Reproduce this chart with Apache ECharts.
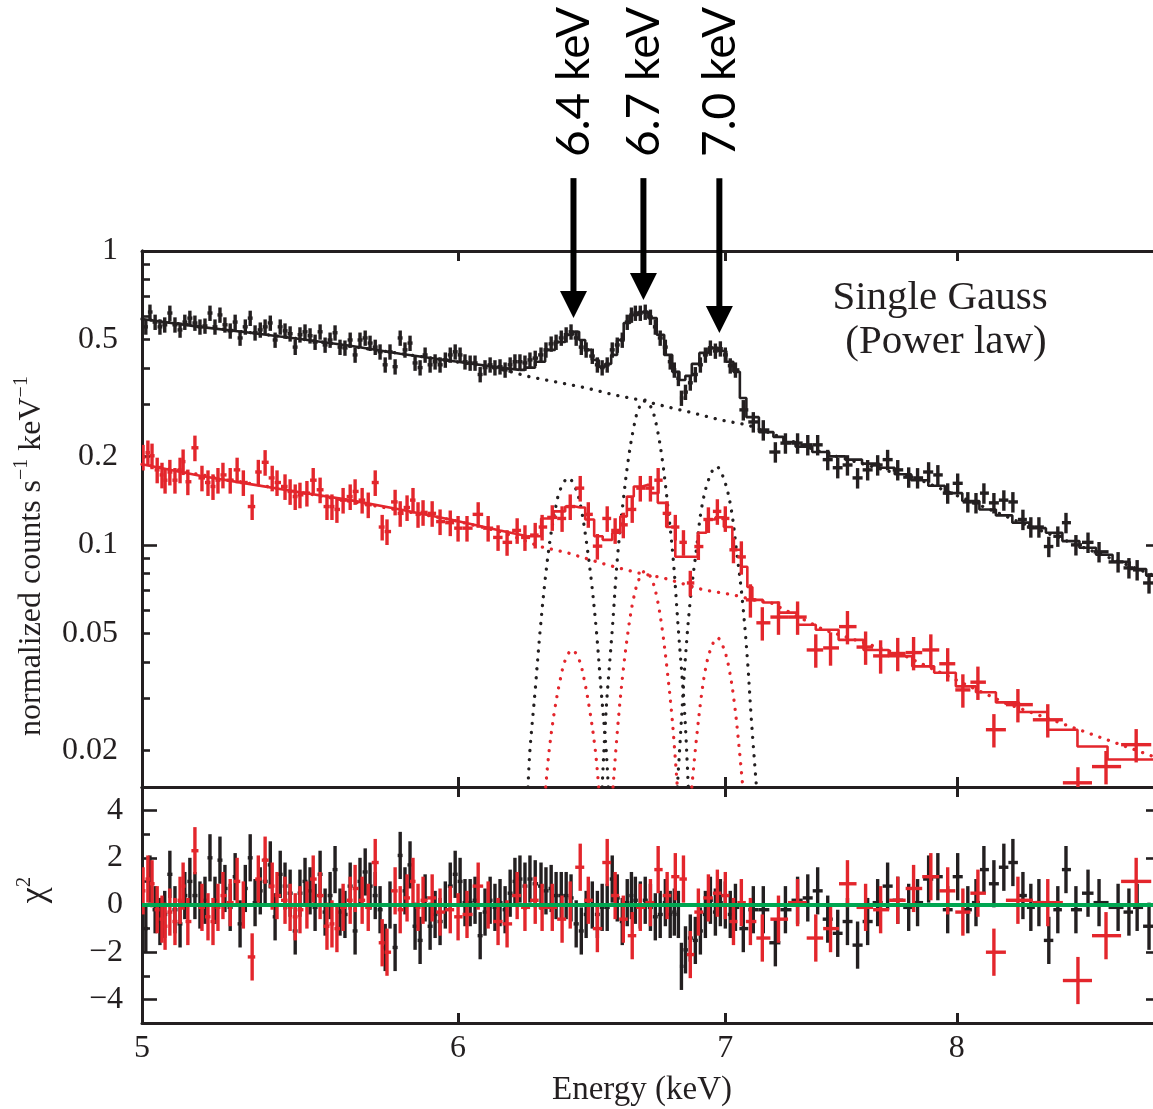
<!DOCTYPE html>
<html><head><meta charset="utf-8">
<script src="https://cdn.jsdelivr.net/npm/echarts@6/dist/echarts.min.js"></script>
<style>html,body{margin:0;padding:0;background:#fff}#c{width:1153px;height:1109px}</style>
</head><body><div id="c"></div>
<script>
// ---------- data ----------
// black spectrum: [energy keV, normalized counts s^-1 keV^-1]
const blackData = [
[5.011,0.552],[5.023,0.620],[5.038,0.573],[5.052,0.552],[5.066,0.561],[5.081,0.615],[5.096,0.561],[5.111,0.539],[5.125,0.573],[5.140,0.591],
[5.155,0.569],[5.170,0.552],[5.185,0.556],[5.200,0.615],[5.215,0.552],[5.230,0.606],[5.245,0.561],[5.261,0.535],[5.276,0.573],[5.291,0.506],
[5.307,0.552],[5.322,0.591],[5.337,0.527],[5.353,0.539],[5.368,0.552],[5.384,0.569],[5.399,0.498],[5.415,0.552],[5.430,0.535],[5.446,0.523],
[5.462,0.471],[5.477,0.519],[5.493,0.531],[5.509,0.515],[5.525,0.490],[5.541,0.531],[5.557,0.479],[5.573,0.498],[5.589,0.527],[5.605,0.471],
[5.621,0.468],[5.638,0.498],[5.654,0.443],[5.670,0.498],[5.687,0.506],[5.703,0.486],[5.720,0.471],[5.736,0.454],[5.753,0.410],[5.769,0.454],
[5.786,0.404],[5.803,0.506],[5.819,0.461],[5.836,0.486],[5.853,0.416],[5.870,0.401],[5.887,0.443],[5.904,0.410],[5.921,0.420],[5.938,0.410],
[5.956,0.426],[5.973,0.443],[5.990,0.454],[6.007,0.443],[6.024,0.420],[6.042,0.416],[6.059,0.416],[6.077,0.380],[6.094,0.401],[6.112,0.410],
[6.129,0.401],[6.147,0.404],[6.165,0.394],[6.183,0.410],[6.200,0.420],[6.218,0.420],[6.236,0.416],
[6.254,0.426],[6.273,0.432],[6.294,0.443],[6.312,0.461],[6.331,0.483],[6.349,0.490],[6.368,0.506],[6.386,0.519],[6.404,0.531],[6.423,0.506],
[6.442,0.471],[6.460,0.461],[6.483,0.439],[6.502,0.410],[6.520,0.401],[6.539,0.410],[6.558,0.461],[6.577,0.479],[6.596,0.498],[6.615,0.573],
[6.631,0.606],[6.646,0.615],[6.665,0.615],[6.684,0.620],[6.704,0.596],[6.723,0.552],[6.742,0.506],[6.762,0.471],[6.781,0.420],[6.797,0.394],
[6.813,0.369],[6.825,0.316],[6.841,0.331],[6.860,0.356],[6.880,0.380],[6.900,0.410],[6.920,0.443],[6.940,0.468],[6.960,0.457],[6.980,0.465],
[7.000,0.443],[7.020,0.407],[7.041,0.394],
[7.073,0.288],[7.114,0.262],[7.155,0.246],[7.205,0.207],[7.247,0.222],[7.298,0.222],[7.341,0.219],[7.383,0.219],[7.426,0.195],[7.469,0.183],
[7.511,0.187],[7.555,0.169],[7.599,0.180],[7.643,0.187],[7.687,0.195],[7.732,0.180],[7.781,0.170],[7.821,0.169],[7.871,0.177],[7.913,0.173],
[7.958,0.150],[8.004,0.162],[8.051,0.140],[8.089,0.139],[8.126,0.150],[8.173,0.139],[8.220,0.142],[8.263,0.140],[8.311,0.122],[8.349,0.115],
[8.388,0.115],[8.436,0.0987],[8.480,0.107],[8.520,0.119],[8.569,0.100],[8.629,0.102],[8.684,0.0947],[8.780,0.0875],[8.835,0.0835],[8.877,0.0822],
[8.938,0.0742]
];
// residuals (chi, sigma units) for the black bins, same order
const blackResid = [
-1.0,1.1,-0.2,-0.7,-0.4,1.3,-0.2,-0.8,0.4,1.0,
0.4,0.0,0.2,2.0,0.2,1.9,0.7,-0.1,1.2,-0.8,
0.7,2.0,0.1,0.6,1.0,1.7,-0.5,1.3,0.8,0.5,
-1.1,0.5,1.0,0.6,-0.1,1.3,-0.3,0.4,1.5,-0.3,
-0.4,0.8,-1.1,1.0,1.4,0.8,0.4,-0.2,-1.8,0.0,
-1.8,2.1,0.6,1.7,-0.9,-1.5,0.3,-0.9,-0.4,-0.7,
0.0,0.8,1.3,1.0,0.1,0.1,0.2,-1.3,-0.3,0.2,
-0.1,0.1,-0.2,0.5,1.0,1.1,0.8,
1.1,0.9,0.8,0.6,0.7,0.4,0.4,0.4,0.3,-0.8,
-1.1,-0.4,0.0,-0.4,-0.1,-0.1,1.1,0.3,-0.7,0.1,
0.4,0.2,0.0,0.2,-0.1,-0.5,-0.4,0.1,-0.4,-0.3,
-0.4,-2.6,-1.9,-1.4,-1.5,-1.1,-0.4,0.2,-0.3,0.1,
0.0,-0.4,-0.1,
-1.0,-0.2,-0.2,-1.6,-0.2,0.2,0.3,0.6,-0.6,-1.2,
-0.7,-1.7,-0.7,0.1,0.8,0.2,-0.1,0.1,1.1,1.2,
-0.2,1.2,-0.2,0.1,1.5,0.9,1.6,1.8,0.4,-0.1,
0.1,-1.5,-0.2,1.5,-0.2,0.5,0.1,-0.1,-0.3,-0.1,
-0.9
];
// red spectrum
const redData = [
[5.003,0.199],[5.017,0.206],[5.029,0.201],[5.044,0.180],[5.058,0.173],[5.067,0.166],[5.081,0.177],[5.096,0.166],[5.111,0.180],[5.120,0.192],
[5.134,0.164],[5.155,0.214],[5.176,0.169],[5.194,0.163],[5.209,0.158],[5.224,0.166],[5.239,0.173],[5.261,0.166],[5.282,0.180],[5.301,0.163],
[5.328,0.135],[5.347,0.177],[5.368,0.191],[5.390,0.169],[5.405,0.163],[5.430,0.158],[5.446,0.152],[5.462,0.146],[5.477,0.148],[5.499,0.150],
[5.519,0.166],[5.541,0.154],[5.563,0.135],[5.579,0.135],[5.595,0.132],[5.615,0.142],[5.638,0.146],[5.654,0.152],[5.677,0.142],[5.697,0.137],
[5.720,0.163],[5.743,0.115],[5.759,0.111],[5.786,0.140],[5.803,0.128],[5.826,0.134],[5.846,0.142],[5.863,0.127],[5.880,0.129],[5.911,0.128],
[5.938,0.120],[5.973,0.119],[6.000,0.114],[6.031,0.114],[6.070,0.127],[6.105,0.114],[6.140,0.106],[6.172,0.102],[6.208,0.112],[6.236,0.106],
[6.273,0.108],[6.298,0.115],[6.335,0.124],[6.371,0.123],[6.401,0.135],[6.438,0.156],[6.468,0.127],[6.502,0.099],[6.539,0.123],[6.569,0.112],
[6.600,0.117],[6.634,0.132],[6.665,0.156],[6.704,0.156],[6.734,0.166],[6.769,0.128],[6.801,0.115],[6.833,0.102],[6.860,0.0742],[6.892,0.0987],
[6.932,0.122],[6.968,0.130],[7.000,0.123],[7.033,0.0962],[7.065,0.0910],[7.102,0.0650],[7.151,0.0543],[7.218,0.0568],[7.298,0.0568],[7.375,0.0439],
[7.438,0.0446],[7.511,0.0527],[7.590,0.0449],[7.656,0.0419],[7.732,0.0427],[7.803,0.0430],[7.881,0.0439],[7.958,0.0394],[8.028,0.0321],[8.098,0.0341],
[8.173,0.0235],[8.287,0.0286],[8.431,0.0254],[8.579,0.0155],[8.719,0.0176],[8.872,0.0209]
];
const redResid = [
0.6,1.1,0.9,-0.2,-0.6,-0.9,-0.3,-0.7,0.2,0.8,
-0.7,2.3,-0.1,-0.5,-0.7,-0.1,0.4,0.1,1.0,0.0,
-2.2,1.1,1.9,0.8,0.4,0.2,-0.1,-0.5,-0.2,0.0,
1.1,0.4,-0.9,-0.8,-1.0,-0.1,0.2,0.7,0.2,-0.1,
1.8,-1.6,-2.0,0.6,-0.2,0.3,1.0,-0.1,0.2,0.3,
-0.3,-0.2,-0.5,-0.4,0.8,0.0,-0.7,-0.8,0.4,-0.1,
0.2,-0.1,-0.1,-0.6,0.0,1.6,0.2,-1.0,1.8,0.4,
-0.6,-1.3,-0.1,0.1,1.5,0.4,1.2,1.1,-2.1,-0.3,
0.3,0.5,0.4,-0.7,0.1,-0.7,-1.4,-0.6,0.1,-1.4,
-1.0,0.9,-0.1,-0.2,0.2,0.7,1.2,0.6,-0.3,0.5,
-2.0,0.2,0.1,-3.2,-1.3,1.0
];
// relative error-bar half sizes: [energy upper limit, fraction]
const blackErrFrac = [[7.06,0.06],[9.5,0.08]];
const redErrFrac = [[7.06,0.10],[9.5,0.13]];

// folded models (solid histograms)
const blackModelLow = [[5.000,0.587],[5.170,0.552],[5.322,0.527],[5.477,0.502],[5.638,0.476],[5.803,0.447],[5.973,0.423],[6.147,0.401],[6.218,0.394]];
const blackModelHigh = [
[6.218,0.394],[6.254,0.401],[6.291,0.420],[6.327,0.461],[6.364,0.490],[6.401,0.519],[6.423,0.531],[6.445,0.498],[6.468,0.461],[6.494,0.426],
[6.520,0.404],[6.543,0.413],[6.565,0.443],[6.588,0.498],[6.615,0.569],[6.638,0.606],[6.677,0.620],[6.715,0.591],[6.742,0.519],[6.773,0.443],
[6.805,0.388],[6.829,0.364],[6.852,0.376],[6.880,0.413],[6.912,0.450],[6.952,0.468],[6.992,0.457],[7.016,0.420],[7.049,0.388],[7.069,0.316],
[7.102,0.272],[7.172,0.242],[7.222,0.233],[7.255,0.224],[7.324,0.216],[7.396,0.207],[7.468,0.200],[7.537,0.195],[7.612,0.189],[7.687,0.183],
[7.750,0.174],[7.835,0.166],[7.904,0.159],[7.986,0.150],[8.065,0.141],[8.145,0.132],[8.220,0.126],[8.301,0.119],[8.383,0.114],[8.461,0.110],
[8.544,0.103],[8.629,0.0978],[8.709,0.0925],[8.795,0.0876],[8.882,0.0828],[8.965,0.0786]
];
const redModelLow = [[5.000,0.188],[5.170,0.172],[5.322,0.161],[5.477,0.151],[5.638,0.142],[5.803,0.132],[5.973,0.122],[6.147,0.112],[6.245,0.107]];
const redModelHigh = [
[6.245,0.107],[6.273,0.107],[6.316,0.123],[6.364,0.130],[6.401,0.135],[6.438,0.134],[6.475,0.122],[6.505,0.107],[6.539,0.104],[6.577,0.110],
[6.600,0.125],[6.627,0.146],[6.653,0.158],[6.692,0.160],[6.715,0.150],[6.750,0.139],[6.781,0.115],[6.821,0.0911],[6.872,0.0911],[6.908,0.110],
[6.940,0.122],[6.980,0.124],[7.008,0.115],[7.049,0.0962],[7.081,0.0842],[7.098,0.0719],[7.122,0.0650],[7.184,0.0637],[7.255,0.0588],[7.341,0.0535],
[7.409,0.0514],[7.537,0.0475],[7.625,0.0439],[7.759,0.0418],[7.835,0.0386],[7.958,0.0367],[8.033,0.0330],[8.145,0.0315],[8.220,0.0291],[8.364,0.0270],
[8.495,0.0235],[8.659,0.0206],[8.795,0.0186],[8.965,0.0186]
];
// model components (dotted)
const blackCont = [[5.000,0.587],[5.477,0.502],[5.973,0.423],[6.147,0.397],[6.254,0.373],[6.364,0.356],[6.460,0.342],[6.565,0.324],[6.665,0.311],
[6.769,0.295],[6.872,0.281],[6.980,0.266],[7.090,0.256],[7.172,0.242],[7.396,0.207],[7.835,0.166],[8.301,0.119],[8.965,0.0786]];
const redCont = [[5.000,0.188],[5.477,0.151],[5.973,0.122],[6.147,0.111],[6.291,0.0987],[6.390,0.094],[6.539,0.0855],[6.653,0.0804],[6.754,0.0772],
[6.912,0.0703],[7.033,0.0676],[7.114,0.065],[7.184,0.0637],[7.409,0.0514],[7.767,0.0418],[8.229,0.0289],[8.965,0.0190]];
const blackGauss64 = [[6.247,0.015],[6.254,0.0201],[6.273,0.0321],[6.291,0.0514],[6.309,0.076],[6.327,0.104],[6.346,0.132],[6.364,0.154],[6.394,0.169],
[6.423,0.154],[6.442,0.132],[6.460,0.104],[6.479,0.076],[6.498,0.0514],[6.516,0.0321],[6.535,0.0201],[6.543,0.015]];
const blackGauss67 = [[6.520,0.015],[6.535,0.0275],[6.558,0.0514],[6.577,0.0889],[6.600,0.142],[6.619,0.195],[6.638,0.246],[6.657,0.288],[6.684,0.311],
[6.711,0.288],[6.731,0.246],[6.750,0.195],[6.769,0.142],[6.793,0.0889],[6.813,0.0514],[6.837,0.0275],[6.852,0.015]];
const blackGauss70 = [[6.809,0.015],[6.825,0.0254],[6.840,0.0406],[6.860,0.065],[6.884,0.0962],[6.904,0.132],[6.932,0.166],[6.964,0.185],
[6.996,0.166],[7.024,0.132],[7.045,0.0962],[7.069,0.065],[7.090,0.0406],[7.106,0.0254],[7.127,0.015]];
const redGauss64 = [[6.311,0.015],[6.324,0.0201],[6.344,0.0275],[6.364,0.0347],[6.383,0.0406],[6.408,0.0439],[6.434,0.0406],[6.453,0.0347],
[6.473,0.0275],[6.494,0.0201],[6.507,0.015]];
const redGauss67 = [[6.561,0.015],[6.581,0.0254],[6.600,0.0376],[6.619,0.0514],[6.638,0.065],[6.659,0.076],[6.684,0.0815],[6.710,0.076],
[6.731,0.065],[6.750,0.0514],[6.769,0.0376],[6.789,0.0254],[6.809,0.015]];
const redGauss70 = [[6.866,0.015],[6.884,0.0217],[6.902,0.0297],[6.920,0.0376],[6.940,0.0439],[6.968,0.0483],[6.996,0.0439],[7.016,0.0376],
[7.035,0.0297],[7.053,0.0217],[7.071,0.015]];
const zeroLine = [[5,0],[9,0]];

// axes / ticks
const xTicks = [5,6,7,8];
const yTicksMajor = [1,0.1];
const yTicksMinor = [0.9,0.8,0.7,0.6,0.5,0.4,0.3,0.2,0.09,0.08,0.07,0.06,0.05,0.04,0.03,0.02];
const yLabels = [1,0.5,0.2,0.1,0.05,0.02];
const rTicksMajor = [-4,-2,0,2,4];
const rTicksMinor = [-3,-1,1,3];

// line annotations
const lineE = [6.413,6.677,6.976];
const lineTip = [0.592,0.681,0.526];
const lineLabels = ['6.4 keV','6.7 keV','7.0 keV'];
const arrowTop = 1.77, labelBase = 2.09;

// ---------- styles ----------
const INK = '#231f20', RED = '#e3262c', GREEN = '#00a651';
const SERIF = "'Liberation Serif','Times New Roman',serif";

function edges(arr){
  const n = arr.length;
  return arr.map((p,i)=>{
    let lo = i>0 ? Math.sqrt(arr[i-1][0]*p[0]) : null;
    let hi = i<n-1 ? Math.sqrt(arr[i+1][0]*p[0]) : null;
    if (lo===null) lo = p[0]*p[0]/hi;
    if (hi===null) hi = p[0]*p[0]/lo;
    return [lo,hi];
  });
}
function errFrac(table,e){ for (const t of table) if (e < t[0]) return t[1]; return table[table.length-1][1]; }
const bEdges = edges(blackData), rEdges = edges(redData);
const blackCross = blackData.map((p,i)=>{const f=errFrac(blackErrFrac,p[0]);return [p[0],p[1],bEdges[i][0],bEdges[i][1],p[1]*(1-f),p[1]*(1+f)];});
const redCross = redData.map((p,i)=>{const f=errFrac(redErrFrac,p[0]);return [p[0],p[1],rEdges[i][0],rEdges[i][1],p[1]*(1-f),p[1]*(1+f)];});
const blackResCross = blackData.map((p,i)=>[p[0],blackResid[i],bEdges[i][0],bEdges[i][1],blackResid[i]-1,blackResid[i]+1]);
const redResCross = redData.map((p,i)=>[p[0],redResid[i],rEdges[i][0],rEdges[i][1],redResid[i]-1,redResid[i]+1]);

function crossRender(color,w){
  return function(params,api){
    const a=api.coord([api.value(2),api.value(1)]), b=api.coord([api.value(3),api.value(1)]);
    const c=api.coord([api.value(0),api.value(4)]), d=api.coord([api.value(0),api.value(5)]);
    return {type:'group',children:[
      {type:'line',shape:{x1:a[0],y1:a[1],x2:b[0],y2:b[1]},style:{stroke:color,lineWidth:w}},
      {type:'line',shape:{x1:c[0],y1:c[1],x2:d[0],y2:d[1]},style:{stroke:color,lineWidth:w}}
    ]};
  };
}
function crossSeries(data,color,upper){
  return {type:'custom',xAxisIndex:upper?0:2,yAxisIndex:upper?0:4,clip:true,silent:true,
    renderItem:crossRender(color,3.4),data:data,z:3};
}
function solid(data,color,step){
  return {type:'line',xAxisIndex:0,yAxisIndex:0,data:data,showSymbol:false,symbol:'none',step:step||false,clip:true,silent:true,
    lineStyle:{color:color,width:2.6},z:4};
}
function dotted(data,color,smooth){
  return {type:'line',xAxisIndex:0,yAxisIndex:0,data:data,showSymbol:false,symbol:'none',clip:true,silent:true,smooth:smooth?0.35:false,
    lineStyle:{color:color,width:3.3,type:[0.1,9],cap:'round'},z:2};
}
function xAx(gi,pos,labels){
  return {type:'log',logBase:10,gridIndex:gi,position:pos,min:5,max:9,
    axisLine:{show:true,onZero:false,lineStyle:{color:INK,width:3}},
    axisTick:{show:true,inside:true,length:10,customValues:xTicks,lineStyle:{color:INK,width:3}},
    axisLabel:labels?{show:true,customValues:xTicks,formatter:v=>String(Math.round(v)),color:INK,fontFamily:SERIF,fontSize:32,margin:10}:{show:false},
    splitLine:{show:false},minorTick:{show:false},minorSplitLine:{show:false},axisPointer:{show:false}};
}
function yLog(pos,ticks,len,labels){
  return {type:'log',logBase:10,gridIndex:0,position:pos,min:0.015,max:1,
    axisLine:{show:true,onZero:false,lineStyle:{color:INK,width:3}},
    axisTick:{show:true,inside:true,length:len,customValues:ticks,lineStyle:{color:INK,width:2.6}},
    axisLabel:labels?{show:true,customValues:yLabels,formatter:v=>String(+(+v).toPrecision(2)),color:INK,fontFamily:SERIF,fontSize:32,margin:24}:{show:false},
    splitLine:{show:false},minorTick:{show:false}};
}
function yRes(pos,ticks,len,labels){
  return {type:'value',gridIndex:1,position:pos,min:-5,max:5,
    axisLine:{show:true,onZero:false,lineStyle:{color:INK,width:3}},
    axisTick:{show:true,inside:true,length:len,customValues:ticks,lineStyle:{color:INK,width:2.6}},
    axisLabel:labels?{show:true,customValues:rTicksMajor,formatter:v=>(v<0?'\u2212'+(-v):String(v)),color:INK,fontFamily:SERIF,fontSize:32,margin:19}:{show:false},
    splitLine:{show:false},minorTick:{show:false}};
}

const chart = echarts.init(document.getElementById('c'),null,{renderer:'canvas'});
chart.setOption({
  animation:false,
  backgroundColor:'#fff',
  grid:[
    {left:142,top:251,width:1019,height:536,outerBoundsMode:'none',containLabel:false},
    {left:142,top:787,width:1019,height:236,outerBoundsMode:'none',containLabel:false}
  ],
  xAxis:[xAx(0,'bottom',false),xAx(0,'top',false),xAx(1,'bottom',true),xAx(1,'top',false)],
  yAxis:[yLog('left',yTicksMajor,15,true),yLog('left',yTicksMinor,8,false),yLog('right',yTicksMajor,15,false),yLog('right',yTicksMinor,8,false),
         yRes('left',rTicksMajor,15,true),yRes('left',rTicksMinor,8,false),yRes('right',rTicksMajor,15,false),yRes('right',rTicksMinor,8,false)],
  series:[
    dotted(blackCont,INK,false),dotted(blackGauss64,INK,true),dotted(blackGauss67,INK,true),dotted(blackGauss70,INK,true),
    dotted(redCont,RED,false),dotted(redGauss64,RED,true),dotted(redGauss67,RED,true),dotted(redGauss70,RED,true),
    crossSeries(blackCross,INK,true),
    crossSeries(redCross,RED,true),
    solid(blackModelLow,INK,false),solid(blackModelHigh,INK,'middle'),
    solid(redModelLow,RED,false),solid(redModelHigh,RED,'middle'),
    crossSeries(blackResCross,INK,false),
    crossSeries(redResCross,RED,false),
    {type:'line',xAxisIndex:2,yAxisIndex:4,data:zeroLine,showSymbol:false,symbol:'none',silent:true,lineStyle:{color:GREEN,width:4},z:6},
    {type:'custom',xAxisIndex:0,yAxisIndex:0,clip:false,silent:true,z:8,
      data:lineE.map((e,i)=>[e,lineTip[i]]),
      renderItem:function(params,api){
        const i=params.dataIndex;
        const tip=api.coord([api.value(0),api.value(1)]);
        const top=api.coord([api.value(0),arrowTop]);
        const lab=api.coord([api.value(0),labelBase]);
        const H=27,W=13.5;
        return {type:'group',children:[
          {type:'line',shape:{x1:top[0],y1:top[1],x2:tip[0],y2:tip[1]-H+2},style:{stroke:'#000',lineWidth:6}},
          {type:'polygon',shape:{points:[[tip[0]-W,tip[1]-H],[tip[0]+W,tip[1]-H],[tip[0],tip[1]]]},style:{fill:'#000'}},
          {type:'text',x:lab[0]+1,y:lab[1],rotation:Math.PI/2,
            style:{text:lineLabels[i],x:0,y:0,align:'left',verticalAlign:'middle',font:'46px Lato',fill:'#000'}}
        ]};
      }}
  ],
  graphic:[
    {type:'text',x:32,y:556,rotation:Math.PI/2,
      style:{text:'normalized counts s{sup|\u22121} keV{sup|\u22121}',align:'center',verticalAlign:'middle',
        font:"32px "+SERIF,fill:INK,lineHeight:40,
        rich:{sup:{fontSize:20,fontFamily:SERIF,verticalAlign:'top',lineHeight:20,fill:INK}}}},
    {type:'text',x:35,y:890,rotation:Math.PI/2,
      style:{text:'\u03c7{sup|2}',align:'center',verticalAlign:'middle',font:"36px "+SERIF,fill:INK,lineHeight:42,
        rich:{sup:{fontSize:21,fontFamily:SERIF,verticalAlign:'top',lineHeight:21,fill:INK}}}},
    {type:'text',x:642,y:1090,style:{text:'Energy (keV)',align:'center',verticalAlign:'middle',font:"33px "+SERIF,fill:INK}},
    {type:'text',x:940,y:298,style:{text:'Single Gauss',align:'center',verticalAlign:'middle',font:"41px "+SERIF,fill:INK}},
    {type:'text',x:946,y:342,style:{text:'(Power law)',align:'center',verticalAlign:'middle',font:"41px "+SERIF,fill:INK}}
  ]
});
</script>
</body></html>
